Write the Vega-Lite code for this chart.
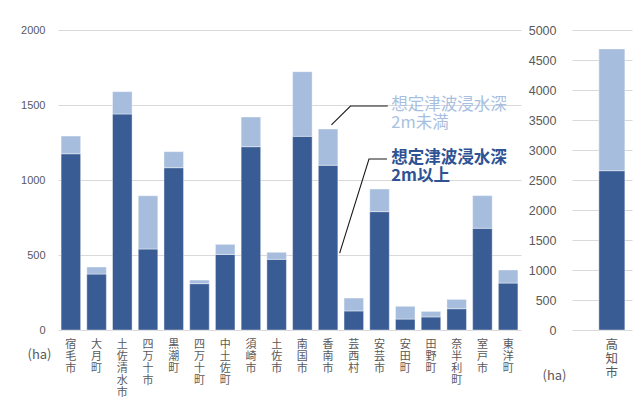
{
  "$schema": "https://vega.github.io/schema/vega-lite/v6.json",
  "padding": {"left": 20, "top": 24, "right": 5, "bottom": 0},
  "background": "#ffffff",
  "config": {
    "view": {"stroke": null},
    "font": "Noto Sans CJK JP",
    "axis": {"gridColor": "#d9d9d9", "gridWidth": 1, "domain": false, "ticks": false, "labelColor": "#595959", "titleColor": "#595959", "titleFontWeight": "normal"}
  },
  "datasets": {
    "bars": [
      {"muni": "宿毛市", "level": "2m以上", "ha": 1175}, {"muni": "宿毛市", "level": "2m未満", "ha": 118},
      {"muni": "大月町", "level": "2m以上", "ha": 373}, {"muni": "大月町", "level": "2m未満", "ha": 47},
      {"muni": "土佐清水市", "level": "2m以上", "ha": 1440}, {"muni": "土佐清水市", "level": "2m未満", "ha": 149},
      {"muni": "四万十市", "level": "2m以上", "ha": 540}, {"muni": "四万十市", "level": "2m未満", "ha": 355},
      {"muni": "黒潮町", "level": "2m以上", "ha": 1082}, {"muni": "黒潮町", "level": "2m未満", "ha": 107},
      {"muni": "四万十町", "level": "2m以上", "ha": 309}, {"muni": "四万十町", "level": "2m未満", "ha": 24},
      {"muni": "中土佐町", "level": "2m以上", "ha": 504}, {"muni": "中土佐町", "level": "2m未満", "ha": 67},
      {"muni": "須崎市", "level": "2m以上", "ha": 1222}, {"muni": "須崎市", "level": "2m未満", "ha": 198},
      {"muni": "土佐市", "level": "2m以上", "ha": 471}, {"muni": "土佐市", "level": "2m未満", "ha": 47},
      {"muni": "南国市", "level": "2m以上", "ha": 1291}, {"muni": "南国市", "level": "2m未満", "ha": 431},
      {"muni": "香南市", "level": "2m以上", "ha": 1098}, {"muni": "香南市", "level": "2m未満", "ha": 242},
      {"muni": "芸西村", "level": "2m以上", "ha": 127}, {"muni": "芸西村", "level": "2m未満", "ha": 86},
      {"muni": "安芸市", "level": "2m以上", "ha": 789}, {"muni": "安芸市", "level": "2m未満", "ha": 151},
      {"muni": "安田町", "level": "2m以上", "ha": 73}, {"muni": "安田町", "level": "2m未満", "ha": 85},
      {"muni": "田野町", "level": "2m以上", "ha": 87}, {"muni": "田野町", "level": "2m未満", "ha": 37},
      {"muni": "奈半利町", "level": "2m以上", "ha": 142}, {"muni": "奈半利町", "level": "2m未満", "ha": 62},
      {"muni": "室戸市", "level": "2m以上", "ha": 678}, {"muni": "室戸市", "level": "2m未満", "ha": 218},
      {"muni": "東洋町", "level": "2m以上", "ha": 313}, {"muni": "東洋町", "level": "2m未満", "ha": 87},
      {"muni": "高知市", "level": "2m以上", "ha": 2655}, {"muni": "高知市", "level": "2m未満", "ha": 2030}
    ],
    "leaders": [
      {"grp": "a", "seq": 1, "pos": 10.63, "ha": 1367},
      {"grp": "a", "seq": 2, "pos": 11.37, "ha": 1493},
      {"grp": "a", "seq": 3, "pos": 12.82, "ha": 1493},
      {"grp": "b", "seq": 1, "pos": 12.79, "ha": 1140},
      {"grp": "b", "seq": 2, "pos": 12.09, "ha": 1140},
      {"grp": "b", "seq": 3, "pos": 10.95, "ha": 513}
    ],
    "notes": [
      {"kind": "lt", "pos": 12.96, "ha": 1500, "label": "想定津波浸水深"},
      {"kind": "lt", "pos": 12.96, "ha": 1378, "label": "2m未満"},
      {"kind": "ge", "pos": 12.96, "ha": 1145, "label": "想定津波浸水深"},
      {"kind": "ge", "pos": 12.96, "ha": 1027, "label": "2m以上"}
    ]
  },
  "hconcat": [
    {
      "width": 463,
      "height": 300,
      "layer": [
        {
          "data": {"name": "bars"},
          "transform": [{"filter": "datum.muni !== '高知市'"}],
          "mark": {"type": "bar", "stroke": "#ffffff", "strokeWidth": 0.8, "strokeOpacity": 0.5},
          "encoding": {
            "x": {"field": "muni", "type": "nominal", "sort": null,
              "scale": {"paddingInner": 0.24, "paddingOuter": 0.12},
              "axis": {"title": null, "labelAngle": 0, "labelExpr": "split(datum.label, '')", "labelLineHeight": 12, "labelFontSize": 11, "labelBaseline": "top", "labelPadding": 8, "labelFont": "Noto Sans CJK JP", "labelColor": "#595959"}},
            "y": {"field": "ha", "type": "quantitative", "stack": "zero",
              "scale": {"domain": [0, 2000], "nice": false},
              "axis": {"values": [0, 500, 1000, 1500, 2000], "format": "d", "labelFont": "Liberation Sans", "labelFontSize": 11, "labelPadding": 13,
                "title": "(ha)", "titleAngle": 0, "titleX": -19, "titleY": 324, "titleAlign": "center", "titleBaseline": "middle", "titleFontSize": 13, "titleFont": "Noto Sans CJK JP"}},
            "color": {"field": "level", "type": "nominal",
              "scale": {"domain": ["2m以上", "2m未満"], "range": ["#3A5C95", "#A6BDDD"]}, "legend": null},
            "order": {"field": "level", "sort": "ascending"}
          }
        },
        {
          "data": {"name": "leaders"},
          "mark": {"type": "line", "color": "#1a1a1a", "strokeWidth": 1.1},
          "encoding": {
            "x": {"field": "pos", "type": "quantitative", "scale": {"domain": [0, 18], "nice": false, "zero": false}, "axis": null},
            "y": {"field": "ha", "type": "quantitative", "scale": {"domain": [0, 2000], "nice": false},
              "axis": {"values": [0, 500, 1000, 1500, 2000], "format": "d", "labelFont": "Liberation Sans", "labelFontSize": 11, "labelPadding": 13,
                "title": "(ha)", "titleAngle": 0, "titleX": -19, "titleY": 324, "titleAlign": "center", "titleBaseline": "middle", "titleFontSize": 13, "titleFont": "Noto Sans CJK JP"}},
            "detail": {"field": "grp"},
            "order": {"field": "seq"}
          }
        },
        {
          "data": {"name": "notes"},
          "transform": [{"filter": "datum.kind === 'lt'"}],
          "mark": {"type": "text", "align": "left", "baseline": "middle", "fontSize": 16.5, "color": "#A8BFDF", "font": "Noto Sans CJK JP"},
          "encoding": {
            "x": {"field": "pos", "type": "quantitative", "scale": {"domain": [0, 18], "nice": false, "zero": false}, "axis": null},
            "y": {"field": "ha", "type": "quantitative", "scale": {"domain": [0, 2000], "nice": false},
              "axis": {"values": [0, 500, 1000, 1500, 2000], "format": "d", "labelFont": "Liberation Sans", "labelFontSize": 11, "labelPadding": 13,
                "title": "(ha)", "titleAngle": 0, "titleX": -19, "titleY": 324, "titleAlign": "center", "titleBaseline": "middle", "titleFontSize": 13, "titleFont": "Noto Sans CJK JP"}},
            "text": {"field": "label"}
          }
        },
        {
          "data": {"name": "notes"},
          "transform": [{"filter": "datum.kind === 'ge'"}],
          "mark": {"type": "text", "align": "left", "baseline": "middle", "fontSize": 16.5, "fontWeight": "bold", "color": "#2E5294", "font": "Noto Sans CJK JP"},
          "encoding": {
            "x": {"field": "pos", "type": "quantitative", "scale": {"domain": [0, 18], "nice": false, "zero": false}, "axis": null},
            "y": {"field": "ha", "type": "quantitative", "scale": {"domain": [0, 2000], "nice": false},
              "axis": {"values": [0, 500, 1000, 1500, 2000], "format": "d", "labelFont": "Liberation Sans", "labelFontSize": 11, "labelPadding": 13,
                "title": "(ha)", "titleAngle": 0, "titleX": -19, "titleY": 324, "titleAlign": "center", "titleBaseline": "middle", "titleFontSize": 13, "titleFont": "Noto Sans CJK JP"}},
            "text": {"field": "label"}
          }
        }
      ],
      "resolve": {"scale": {"x": "independent"}}
    },
    {
      "width": 60,
      "height": 300,
      "data": {"name": "bars"},
      "transform": [{"filter": "datum.muni === '高知市'"}],
      "mark": {"type": "bar", "stroke": "#ffffff", "strokeWidth": 0.8, "strokeOpacity": 0.5},
      "encoding": {
        "x": {"field": "muni", "type": "nominal",
          "scale": {"paddingInner": 0, "paddingOuter": 0.654, "align": 0.79},
          "axis": {"title": null, "labelAngle": 0, "labelExpr": "split(datum.label, '')", "labelLineHeight": 14, "labelFontSize": 12.5, "labelBaseline": "top", "labelPadding": 8, "labelFont": "Noto Sans CJK JP", "labelColor": "#595959"}},
        "y": {"field": "ha", "type": "quantitative", "stack": "zero",
          "scale": {"domain": [0, 5000], "nice": false},
          "axis": {"values": [0, 500, 1000, 1500, 2000, 2500, 3000, 3500, 4000, 4500, 5000], "format": "d", "labelFont": "Liberation Sans", "labelFontSize": 12.5, "labelPadding": 16,
            "title": "(ha)", "titleAngle": 0, "titleX": -18, "titleY": 345, "titleAlign": "center", "titleBaseline": "middle", "titleFontSize": 13, "titleFont": "Noto Sans CJK JP"}},
        "color": {"field": "level", "type": "nominal",
          "scale": {"domain": ["2m以上", "2m未満"], "range": ["#3A5C95", "#A6BDDD"]}, "legend": null},
        "order": {"field": "level", "sort": "ascending"}
      }
    }
  ],
  "spacing": 7
}
